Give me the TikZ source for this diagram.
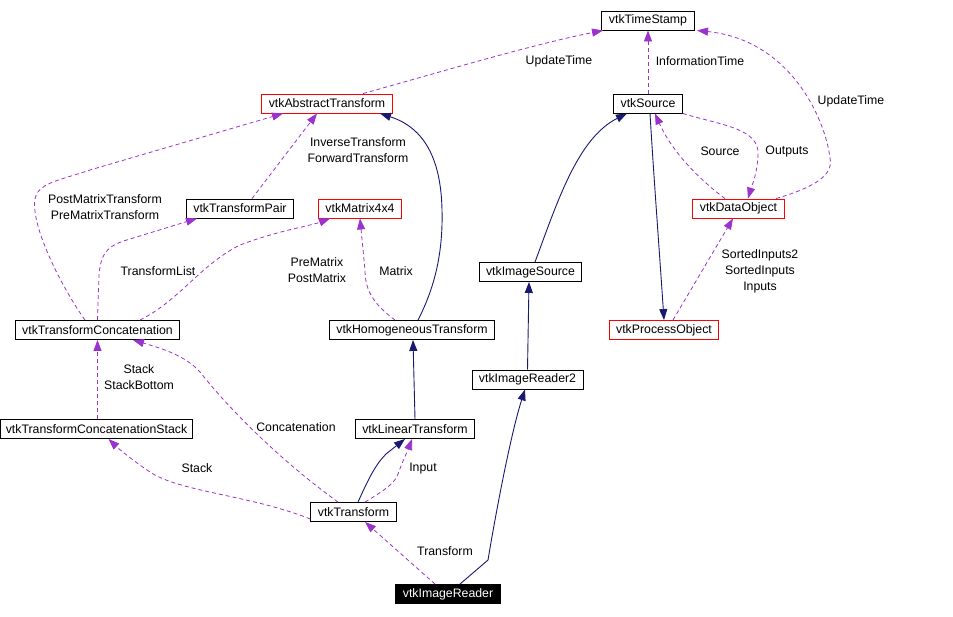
\documentclass[tikz,border=0pt]{standalone}
\usepackage{fontspec}
\setmainfont{Liberation Sans}
\usetikzlibrary{arrows.meta}
\definecolor{edgepurple}{HTML}{9A32CD}
\definecolor{edgenavy}{HTML}{191970}
\begin{document}
\begin{tikzpicture}[x=1pt,y=-1pt,
  font=\fontsize{12.3}{14}\selectfont,
  cls/.style={draw=black,line width=0.9pt,inner xsep=7pt,inner ysep=0pt,minimum height=19pt,fill=white},
  redcls/.style={cls,draw=red},
  curcls/.style={cls,fill=black,text=white},
  lbl/.style={align=center,inner sep=0pt,font=\fontsize{12.3}{16}\selectfont},
  uses/.style={draw=edgepurple,line width=0.8pt,dash pattern=on 4pt off 3pt,-{Triangle[length=11pt,width=8pt]}},
  inh/.style={draw=edgenavy,line width=0.9pt,-{Triangle[length=11pt,width=8pt]}},
]
\useasboundingbox (0,0) rectangle (953,616);
% nodes
\node[cls] (TS) at (648,20.5) {vtkTimeStamp};
\node[redcls] (AT) at (327,103.5) {vtkAbstractTransform};
\node[cls] (SRC) at (648,103.5) {vtkSource};
\node[cls] (TP) at (240,208.5) {vtkTransformPair};
\node[redcls] (M44) at (360,208.5) {vtkMatrix4x4};
\node[redcls] (DO) at (738.5,208.5) {vtkDataObject};
\node[cls] (IS) at (530.5,272) {vtkImageSource};
\node[cls] (TC) at (97.5,330) {vtkTransformConcatenation};
\node[cls] (HT) at (412,330) {vtkHomogeneousTransform};
\node[redcls] (PO) at (664,330) {vtkProcessObject};
\node[cls] (IR2) at (527.5,379.5) {vtkImageReader2};
\node[cls,inner xsep=5.5pt] (TCS) at (96.5,429) {vtkTransformConcatenationStack};
\node[cls] (LT) at (415,429) {vtkLinearTransform};
\node[cls] (TR) at (353.5,512) {vtkTransform};
\node[curcls] (IR) at (448,594) {vtkImageReader};
% labels
\node[lbl] (l1) at (559,61) {UpdateTime};
\node[lbl] (l2) at (700,61) {InformationTime};
\node[lbl] (l3) at (851,101) {UpdateTime};
\node[lbl] (l4) at (358,150) {InverseTransform\\ForwardTransform};
\node[lbl] (l5) at (105,207) {PostMatrixTransform\\PreMatrixTransform};
\node[lbl] (l6) at (158,271) {TransformList};
\node[lbl] (l7) at (317,270) {PreMatrix\\PostMatrix};
\node[lbl] (l8) at (396,271) {Matrix};
\node[lbl] (l9) at (720,151) {Source};
\node[lbl] (l10) at (787,151) {Outputs};
\node[lbl] (l11) at (760,271) {SortedInputs2\\SortedInputs\\Inputs};
\node[lbl] (l12) at (139,377) {Stack\\StackBottom};
\node[lbl] (l13) at (296,427) {Concatenation};
\node[lbl] (l14) at (197,468) {Stack};
\node[lbl] (l15) at (423,469) {Input};
\node[lbl] (l16) at (445,551) {Transform};
% edges
\draw[uses] ([xshift=36pt]AT.north) .. controls (430,75) and (530,45) .. ([xshift=-45pt]TS.south);
\draw[uses] (SRC.north) -- (TS.south);
\draw[uses] ([xshift=37.5pt]DO.north) .. controls (812,188) and (834,176) .. (830,158) .. controls (825,118) and (790,40) .. ([xshift=49pt]TS.south);
\draw[uses] ([xshift=-13.5pt]DO.north) .. controls (700,180) and (672,152) .. ([xshift=7pt]SRC.south);
\draw[uses] (SRC.south east) .. controls (720,125) and (760,128) .. (758,155) .. controls (757,175) and (752,185) .. ([xshift=9.5pt]DO.north);
\draw[inh] ([xshift=4.5pt]IS.north) .. controls (558,200) and (578,138) .. ([xshift=-21pt]SRC.south);
\draw[inh] ([xshift=2pt]SRC.south) .. controls (654,180) and (660,260) .. (PO.north);
\draw[uses] ([xshift=9pt]PO.north) -- ([xshift=-5.5pt]DO.south);
\draw[inh] (IR2.north) -- ([xshift=-1.5pt]IS.south);
\draw[inh] ([xshift=12pt]IR.north) -- (488,560) .. controls (498,500) and (512,430) .. ([xshift=-2.5pt]IR2.south);
\draw[uses] ([xshift=-13pt]IR.north) -- ([xshift=11.5pt]TR.south);
\draw[inh] ([xshift=4.5pt]TR.north) .. controls (368,480) and (375,465) .. (386,454) -- ([xshift=-10pt]LT.south);
\draw[uses] ([xshift=11.5pt]TR.north) .. controls (385,490) and (395,483) .. (398,474) .. controls (403,460) and (408,450) .. ([xshift=-3pt]LT.south);
\draw[inh] (LT.north) -- ([xshift=1pt]HT.south);
\draw[inh] ([xshift=6pt]HT.north) .. controls (436,285) and (443,250) .. (442,210) .. controls (441,160) and (425,128) .. ([xshift=53pt]AT.south);
\draw[uses] ([xshift=-17pt]HT.north) .. controls (375,305) and (365,292) .. (365,270) -- (M44.south);
\draw[uses] ([xshift=42.5pt]TC.north) .. controls (180,300) and (200,265) .. (240,245) .. controls (280,230) and (310,226) .. ([xshift=-30pt]M44.south);
\draw[uses] (TC.north) -- (99,275) .. controls (101,250) and (110,245) .. (130,239) -- ([xshift=-43pt]TP.south);
\draw[uses] ([xshift=-12.5pt]TC.north) .. controls (60,285) and (25,215) .. (37,193) .. controls (45,182) and (60,180) .. (90,170) -- ([xshift=-44pt]AT.south);
\draw[uses] ([xshift=12pt]TP.north) -- ([xshift=-10pt]AT.south);
\draw[uses] ([xshift=1pt]TCS.north) -- (TC.south);
\draw[uses] ([xshift=-15.5pt]TR.north) .. controls (280,460) and (230,410) .. (200,372) .. controls (185,355) and (160,348) .. ([xshift=35.5pt]TC.south);
\draw[uses] ([yshift=-7pt]TR.west) .. controls (250,495) and (180,492) .. (150,472) .. controls (135,462) and (120,450) .. ([xshift=12pt]TCS.south);
\end{tikzpicture}
\end{document}
